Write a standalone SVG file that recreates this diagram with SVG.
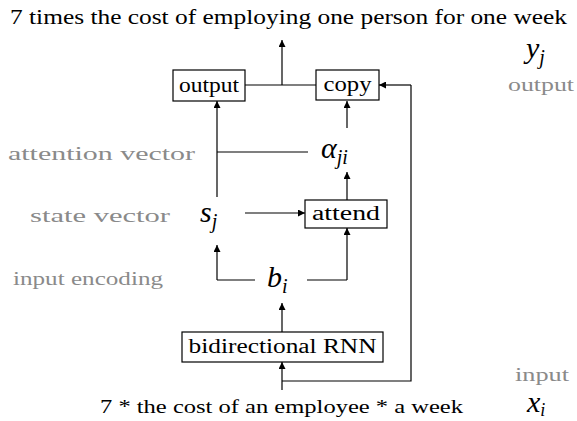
<svg xmlns="http://www.w3.org/2000/svg" width="577" height="421" viewBox="0 0 577 421">
<defs>
<marker id="ah" viewBox="0 0 10 10" refX="10" refY="5" markerWidth="7" markerHeight="7" markerUnits="userSpaceOnUse" orient="auto">
<path d="M0,0 L10,5 L0,10 Z" fill="#000"/>
</marker>
<style>
text{font-family:'Liberation Serif','DejaVu Serif',serif}
.t{fill:#000}
.g{fill:#8a8a8a;font-size:18px}
.m{font-style:italic;fill:#000;font-size:30px}
.box{fill:#fff;stroke:#000;stroke-width:1.2}
.ln{fill:none;stroke:#000;stroke-width:1.2}
.ar{fill:none;stroke:#000;stroke-width:1.2;marker-end:url(#ah)}
</style>
</defs>
<rect width="577" height="421" fill="#fff"/>
<text class="t" x="10" y="24" font-size="20" textLength="557" lengthAdjust="spacingAndGlyphs">7 times the cost of employing one person for one week</text>
<text class="t" x="100" y="413" font-size="19" textLength="363" lengthAdjust="spacingAndGlyphs">7 * the cost of an employee * a week</text>
<g id="labels">
<text class="g" x="8" y="160" textLength="187" lengthAdjust="spacingAndGlyphs">attention vector</text>
<text class="g" x="30" y="222" textLength="140" lengthAdjust="spacingAndGlyphs">state vector</text>
<text class="g" x="13" y="285" textLength="150" lengthAdjust="spacingAndGlyphs">input encoding</text>
<text class="g" x="508" y="91" textLength="66" lengthAdjust="spacingAndGlyphs">output</text>
<text class="g" x="515" y="381" textLength="54" lengthAdjust="spacingAndGlyphs">input</text>
</g>
<g id="connectors">
<path class="ar" d="M282,85 V40"/>
<path class="ln" d="M245,85 H316"/>
<path class="ar" d="M282,390 V362"/>
<path class="ln" d="M282,381 H411 V85"/>
<path class="ar" d="M411,85 H379"/>
<path class="ar" d="M217,197 V101"/>
<path class="ln" d="M308,152 H217"/>
<path class="ar" d="M347,128 V101"/>
<path class="ar" d="M347,200 V172"/>
<path class="ar" d="M245,213 H305"/>
<path class="ln" d="M255,280 H217"/>
<path class="ar" d="M217,280 V245"/>
<path class="ln" d="M307,280 H347"/>
<path class="ar" d="M347,280 V228"/>
<path class="ar" d="M282,332 V303"/>
</g>
<g id="output"><rect class="box" x="173" y="70" width="72" height="31"/><text class="t" x="209" y="92" font-size="20" text-anchor="middle" textLength="60" lengthAdjust="spacingAndGlyphs">output</text></g>
<g id="copy"><rect class="box" x="316" y="70" width="63" height="30"/><text class="t" x="347.5" y="91" font-size="20" text-anchor="middle" textLength="48" lengthAdjust="spacingAndGlyphs">copy</text></g>
<g id="attend"><rect class="box" x="305" y="200" width="82" height="28"/><text class="t" x="346" y="220" font-size="20" text-anchor="middle" textLength="68" lengthAdjust="spacingAndGlyphs">attend</text></g>
<g id="rnn"><rect class="box" x="182" y="332" width="201" height="30"/><text class="t" x="282.5" y="353" font-size="20" text-anchor="middle" textLength="188" lengthAdjust="spacingAndGlyphs">bidirectional RNN</text></g>
<g id="alpha"><text class="m" x="321" y="158">α<tspan font-size="20" dy="6">ji</tspan></text></g>
<g id="sj"><text class="m" x="200" y="222">s<tspan font-size="20" dy="6">j</tspan></text></g>
<g id="bi"><text class="m" x="267" y="287">b<tspan font-size="20" dy="6">i</tspan></text></g>
<g id="yj"><text class="m" x="526" y="58">y<tspan font-size="20" dy="6">j</tspan></text></g>
<g id="xi"><text class="m" x="527" y="412" font-size="27">x<tspan font-size="18" dy="4">i</tspan></text></g>
</svg>
